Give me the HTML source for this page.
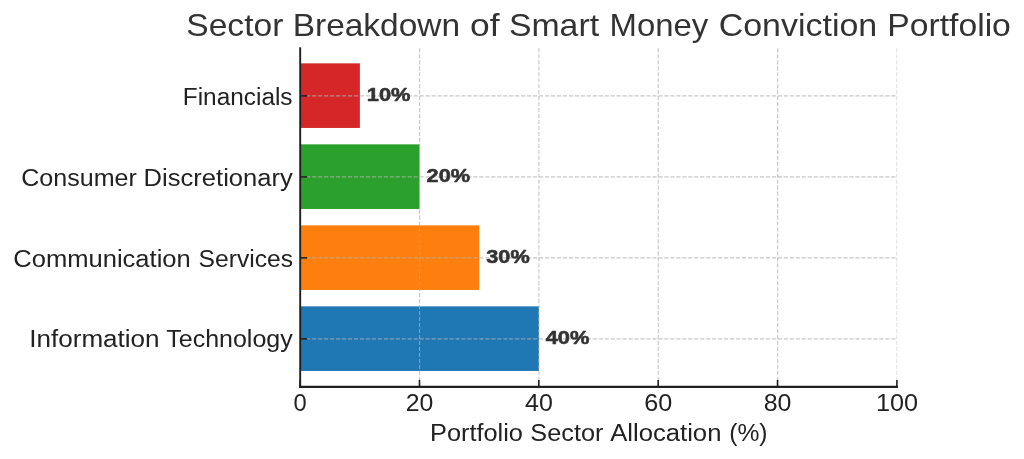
<!DOCTYPE html>
<html><head><meta charset="utf-8"><title>Sector Breakdown of Smart Money Conviction Portfolio</title>
<style>
html,body{margin:0;padding:0;background:#fff;}
body{width:1024px;height:459px;overflow:hidden;}
svg{display:block;will-change:transform;font-family:"Liberation Sans",sans-serif;}
.b{font-weight:bold;stroke:#333333;stroke-width:0.55px;stroke-linejoin:round;}
</style></head><body>
<svg width="1024" height="459" viewBox="0 0 1024 459">
<rect width="1024" height="459" fill="#ffffff"/>
<rect x="300.20" y="63.35" width="59.68" height="64.60" fill="#d62728"/>
<rect x="300.20" y="144.35" width="119.36" height="64.60" fill="#2ca02c"/>
<rect x="300.20" y="225.35" width="179.04" height="64.60" fill="#ff7f0e"/>
<rect x="300.20" y="306.35" width="238.72" height="64.60" fill="#1f77b4"/>
<g stroke="#b0b0b0" stroke-opacity="0.7" stroke-width="1.13" stroke-dasharray="4.17 1.80" fill="none">
<line x1="300.20" y1="386.80" x2="300.20" y2="48.30"/>
<line x1="419.56" y1="386.80" x2="419.56" y2="48.30"/>
<line x1="538.92" y1="386.80" x2="538.92" y2="48.30"/>
<line x1="658.28" y1="386.80" x2="658.28" y2="48.30"/>
<line x1="777.64" y1="386.80" x2="777.64" y2="48.30"/>
<line x1="896.72" y1="386.80" x2="896.72" y2="48.30" stroke-width="0.565"/>
<line x1="300.20" y1="95.90" x2="897.00" y2="95.90"/>
<line x1="300.20" y1="176.90" x2="897.00" y2="176.90"/>
<line x1="300.20" y1="257.90" x2="897.00" y2="257.90"/>
<line x1="300.20" y1="338.90" x2="897.00" y2="338.90"/>
</g>
<g stroke="#202020" stroke-width="1.9" fill="none">
<line x1="300.20" y1="47.20" x2="300.20" y2="387.95"/>
<line x1="299.25" y1="386.90" x2="897.95" y2="386.90" stroke-width="2.1"/>
</g>
<g stroke="#202020" stroke-width="1.6" fill="none">
<line x1="300.10" y1="386.90" x2="300.10" y2="379.90"/>
<line x1="419.46" y1="386.90" x2="419.46" y2="379.90"/>
<line x1="538.82" y1="386.90" x2="538.82" y2="379.90"/>
<line x1="658.18" y1="386.90" x2="658.18" y2="379.90"/>
<line x1="777.54" y1="386.90" x2="777.54" y2="379.90"/>
<line x1="896.90" y1="386.90" x2="896.90" y2="379.90"/>
<line x1="300.20" y1="95.90" x2="307.20" y2="95.90"/>
<line x1="300.20" y1="176.90" x2="307.20" y2="176.90"/>
<line x1="300.20" y1="257.90" x2="307.20" y2="257.90"/>
<line x1="300.20" y1="338.90" x2="307.20" y2="338.90"/>
</g>
<text y="36.00" font-size="31.1" fill="#333333"><tspan x="186.25" textLength="97.09" lengthAdjust="spacingAndGlyphs">Sector</tspan> <tspan x="292.68" textLength="167.38" lengthAdjust="spacingAndGlyphs">Breakdown</tspan> <tspan x="470.10" textLength="29.50" lengthAdjust="spacingAndGlyphs">of</tspan> <tspan x="508.93" textLength="90.13" lengthAdjust="spacingAndGlyphs">Smart</tspan> <tspan x="609.51" textLength="98.69" lengthAdjust="spacingAndGlyphs">Money</tspan> <tspan x="718.66" textLength="158.57" lengthAdjust="spacingAndGlyphs">Conviction</tspan> <tspan x="887.28" textLength="123.61" lengthAdjust="spacingAndGlyphs">Portfolio</tspan></text>
<text x="182.75" y="105.00" font-size="23.3" fill="#222222" textLength="109.83" lengthAdjust="spacingAndGlyphs">Financials</text>
<text x="366.81" y="101.00" font-size="19.1" fill="#333333" textLength="43.64" lengthAdjust="spacingAndGlyphs" class="b">10%</text>
<text y="186.00" font-size="23.3" fill="#222222"><tspan x="21.25" textLength="115.54" lengthAdjust="spacingAndGlyphs">Consumer</tspan> <tspan x="143.64" textLength="149.14" lengthAdjust="spacingAndGlyphs">Discretionary</tspan></text>
<text x="426.56" y="182.00" font-size="19.1" fill="#333333" textLength="43.52" lengthAdjust="spacingAndGlyphs" class="b">20%</text>
<text y="267.00" font-size="23.3" fill="#222222"><tspan x="13.25" textLength="177.50" lengthAdjust="spacingAndGlyphs">Communication</tspan> <tspan x="198.54" textLength="94.51" lengthAdjust="spacingAndGlyphs">Services</tspan></text>
<text x="486.31" y="263.00" font-size="19.1" fill="#333333" textLength="43.40" lengthAdjust="spacingAndGlyphs" class="b">30%</text>
<text y="347.00" font-size="23.3" fill="#222222"><tspan x="29.25" textLength="130.35" lengthAdjust="spacingAndGlyphs">Information</tspan> <tspan x="166.27" textLength="126.48" lengthAdjust="spacingAndGlyphs">Technology</tspan></text>
<text x="545.66" y="344.00" font-size="19.1" fill="#333333" textLength="43.70" lengthAdjust="spacingAndGlyphs" class="b">40%</text>
<text x="293.62" y="411.00" font-size="23.0" fill="#222222" textLength="13.20" lengthAdjust="spacingAndGlyphs">0</text>
<text x="405.72" y="411.00" font-size="23.0" fill="#222222" textLength="27.61" lengthAdjust="spacingAndGlyphs">20</text>
<text x="525.02" y="411.00" font-size="23.0" fill="#222222" textLength="27.79" lengthAdjust="spacingAndGlyphs">40</text>
<text x="644.17" y="411.00" font-size="23.0" fill="#222222" textLength="28.04" lengthAdjust="spacingAndGlyphs">60</text>
<text x="763.75" y="411.00" font-size="23.0" fill="#222222" textLength="27.74" lengthAdjust="spacingAndGlyphs">80</text>
<text x="875.99" y="411.00" font-size="23.0" fill="#222222" textLength="42.13" lengthAdjust="spacingAndGlyphs">100</text>
<text y="441.00" font-size="23.3" fill="#222222"><tspan x="430.00" textLength="92.89" lengthAdjust="spacingAndGlyphs">Portfolio</tspan> <tspan x="530.38" textLength="73.01" lengthAdjust="spacingAndGlyphs">Sector</tspan> <tspan x="610.20" textLength="111.22" lengthAdjust="spacingAndGlyphs">Allocation</tspan> <tspan x="729.18" textLength="38.34" lengthAdjust="spacingAndGlyphs">(%)</tspan></text>
</svg>
</body></html>
